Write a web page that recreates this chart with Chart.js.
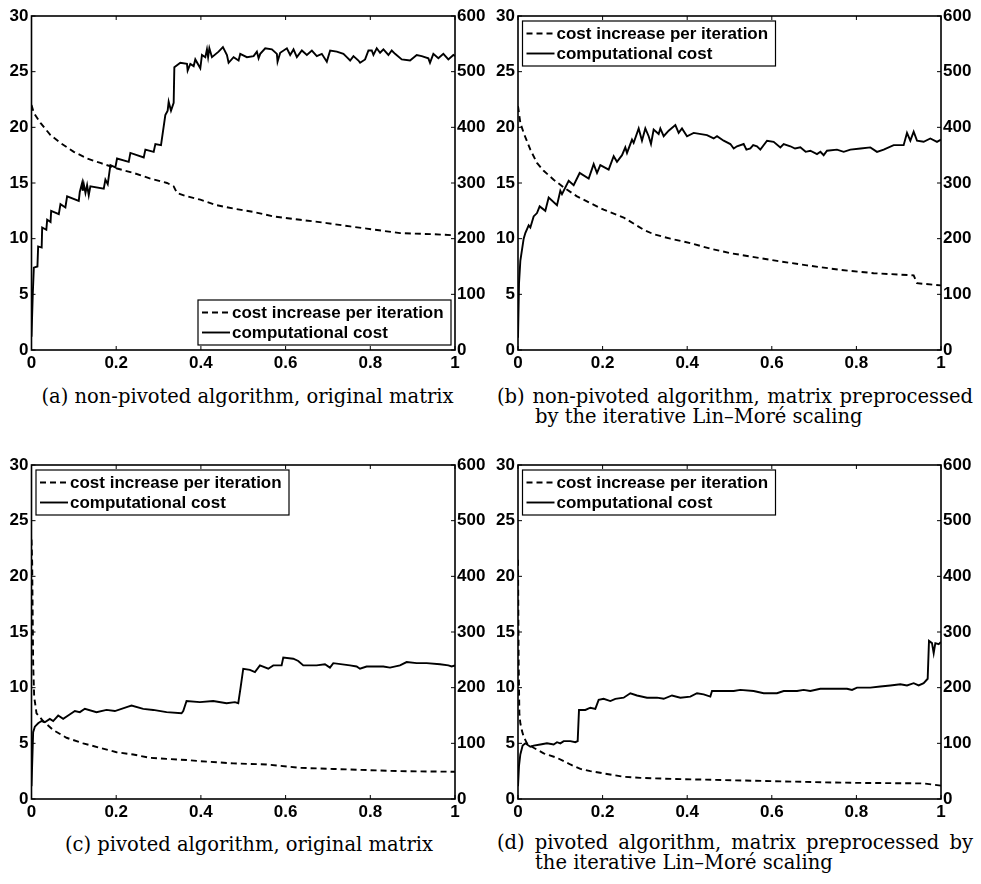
<!DOCTYPE html>
<html>
<head>
<meta charset="utf-8">
<script src="https://cdn.jsdelivr.net/npm/chart.js@4.4.0/dist/chart.umd.min.js"></script>
<style>
  body { margin: 0; background: #fff; width: 981px; height: 884px; position: relative; overflow: hidden; }
  .panel { position: absolute; height: 380px; }
  .cap { position: absolute; font-family: "DejaVu Serif", serif; font-size: 19.5px;
         line-height: 20px; color: #000; white-space: nowrap; }
  .center { text-align: center; }
  .just { text-align: justify; text-align-last: justify; }
</style>
</head>
<body>
<div class="panel" style="left:0;top:0;width:490px"><canvas id="chartA"></canvas></div>
<div class="panel" style="left:490px;top:0;width:491px"><canvas id="chartB"></canvas></div>
<div class="panel" style="left:0;top:449px;width:490px"><canvas id="chartC"></canvas></div>
<div class="panel" style="left:490px;top:449px;width:491px"><canvas id="chartD"></canvas></div>

<div class="cap center" id="capA" style="left:20px;top:387px;width:455px"></div>
<div class="cap just" id="capB1" style="left:497px;top:387px;width:476px"></div>
<div class="cap" id="capB2" style="left:535px;top:407px"></div>
<div class="cap center" id="capC" style="left:29px;top:835px;width:440px"></div>
<div class="cap just" id="capD1" style="left:497px;top:833px;width:476px"></div>
<div class="cap" id="capD2" style="left:535px;top:853px"></div>

<script>
// tick values
const xTicks = [0, 0.2, 0.4, 0.6, 0.8, 1];
const leftTicks = [0, 5, 10, 15, 20, 25, 30];
const rightTicks = [0, 100, 200, 300, 400, 500, 600];

const seriesLabels = ["cost increase per iteration", "computational cost"];

// (a) non-pivoted, original matrix
const costIncA = [[0,22.0],[0.0055,21.3],[0.0212,20.4],[0.0448,19.3],[0.0684,18.6],[0.0998,17.8],[0.1313,17.2],
  [0.1627,16.8],[0.202,16.3],[0.2414,15.9],[0.2807,15.4],[0.32,15.0],[0.3357,14.7],[0.3436,14.1],[0.3671,13.8],
  [0.3986,13.5],[0.4379,13.0],[0.4772,12.7],[0.5244,12.4],[0.5715,12.0],[0.6344,11.7],[0.6973,11.4],[0.7524,11.1],
  [0.7917,10.9],[0.8703,10.5],[0.9489,10.4],[1,10.3]];
const compCostA = [[0,24],[0.003,100],[0.0055,148],[0.014,150],[0.0157,186],[0.024,184],[0.0252,220],[0.035,216],
  [0.037,234],[0.045,230],[0.0464,250],[0.0645,244],[0.0684,262],[0.080,256],[0.0841,276],[0.1116,268],[0.114,284],
  [0.1195,300],[0.121,286],[0.1234,298],[0.1274,282],[0.1313,296],[0.1352,278],[0.139,294],[0.1706,290],[0.1745,306],
  [0.18,298],[0.1863,332],[0.198,328],[0.202,344],[0.2296,338],[0.2335,354],[0.265,346],[0.2689,360],[0.2885,356],
  [0.2925,370],[0.3058,368],[0.316,422],[0.3215,430],[0.3239,446],[0.3294,430],[0.3357,444],[0.3373,508],[0.3514,516],
  [0.3671,514],[0.3687,502],[0.375,514],[0.3829,510],[0.3868,522],[0.3986,506],[0.4025,530],[0.4104,526],[0.4143,540],
  [0.417,526],[0.42,542],[0.4261,526],[0.4418,536],[0.452,544],[0.4615,530],[0.4654,516],[0.4772,526],[0.489,520],
  [0.4929,532],[0.5086,526],[0.5244,528],[0.5322,536],[0.5362,524],[0.5401,532],[0.5519,542],[0.5676,540],[0.5794,532],
  [0.581,518],[0.5873,534],[0.603,542],[0.6108,530],[0.6187,540],[0.6266,526],[0.6384,538],[0.6502,530],[0.662,538],
  [0.6737,528],[0.6855,532],[0.6973,518],[0.7052,538],[0.7209,536],[0.7366,532],[0.7445,526],[0.7524,520],[0.7602,528],
  [0.772,520],[0.7759,516],[0.7877,522],[0.7956,538],[0.8035,538],[0.8074,530],[0.8152,542],[0.8231,534],[0.831,540],
  [0.8428,530],[0.8506,538],[0.8585,532],[0.8742,522],[0.8939,520],[0.9096,530],[0.9214,528],[0.9371,524],[0.941,516],
  [0.9489,532],[0.9607,524],[0.9725,532],[0.9843,522],[0.9961,530],[1,528]];

// (b) non-pivoted, Lin-More scaling
const costIncB = [[0,21.9],[0.0055,20.4],[0.0134,19.5],[0.0292,18.0],[0.0449,16.8],[0.0607,16.1],[0.0843,15.3],
  [0.108,14.6],[0.1395,13.8],[0.171,13.2],[0.2025,12.6],[0.2498,11.9],[0.2971,10.8],[0.3207,10.4],[0.3601,10.0],
  [0.4074,9.6],[0.4547,9.1],[0.502,8.7],[0.565,8.3],[0.6123,8.0],[0.6832,7.6],[0.762,7.2],[0.8408,6.9],[0.9354,6.7],
  [0.9433,6.0],[1,5.8]];
const compCostB = [[0,22],[0.0024,120],[0.0055,160],[0.0134,200],[0.0173,210],[0.0252,224],[0.0292,220],[0.037,240],
  [0.0449,246],[0.0512,258],[0.0646,250],[0.0725,274],[0.0922,260],[0.1001,286],[0.104,280],[0.1198,304],[0.1316,296],
  [0.1458,318],[0.1671,308],[0.1789,334],[0.1868,318],[0.1946,332],[0.2143,324],[0.2262,348],[0.234,338],[0.2459,350],
  [0.2537,364],[0.2577,354],[0.2695,378],[0.2734,372],[0.2853,398],[0.2931,376],[0.301,398],[0.3089,384],[0.3144,370],
  [0.3207,396],[0.3325,388],[0.3365,398],[0.3444,384],[0.3562,394],[0.372,404],[0.3798,390],[0.3877,398],[0.3995,384],
  [0.4153,390],[0.4468,386],[0.4626,380],[0.4705,384],[0.4862,376],[0.502,370],[0.51,362],[0.5177,366],[0.5335,370],
  [0.54,360],[0.5493,362],[0.556,368],[0.565,366],[0.5729,360],[0.5887,376],[0.6044,374],[0.6202,364],[0.6281,370],
  [0.6438,366],[0.655,362],[0.6675,364],[0.68,356],[0.6911,358],[0.7069,352],[0.715,356],[0.7226,350],[0.7305,358],
  [0.7541,360],[0.77,356],[0.7857,360],[0.81,362],[0.833,364],[0.8487,356],[0.8645,360],[0.8881,368],[0.9117,368],
  [0.9196,390],[0.9275,376],[0.9354,392],[0.9433,376],[0.959,374],[0.9748,380],[0.9905,374],[1,378]];

// (c) pivoted, original matrix
const costIncC = [[0,23.3],[0.0016,21.2],[0.0039,12.2],[0.0063,9.2],[0.0118,7.7],[0.0276,7.0],[0.0512,6.2],
  [0.0827,5.5],[0.122,5.0],[0.1614,4.6],[0.2008,4.2],[0.2402,4.0],[0.2795,3.7],[0.3189,3.6],[0.3661,3.5],[0.3976,3.4],
  [0.4764,3.2],[0.5551,3.1],[0.6339,2.8],[0.7126,2.7],[0.7913,2.6],[0.8701,2.5],[1,2.45]];
const compCostC = [[0,23],[0.0039,120],[0.0079,130],[0.0157,136],[0.0236,140],[0.0315,138],[0.0433,144],[0.0512,140],
  [0.063,150],[0.0748,144],[0.0866,150],[0.1024,158],[0.1142,156],[0.126,162],[0.1535,156],[0.1772,160],[0.1969,158],
  [0.2283,166],[0.2362,168],[0.2638,162],[0.2874,160],[0.3189,156],[0.3543,154],[0.3583,158],[0.3661,176],[0.3976,174],
  [0.4291,176],[0.4606,172],[0.4803,174],[0.4882,172],[0.4937,200],[0.5,234],[0.5157,232],[0.5276,228],[0.5394,240],
  [0.5591,234],[0.5709,240],[0.5906,240],[0.5945,254],[0.6181,252],[0.6299,248],[0.6417,240],[0.6732,240],[0.6929,242],
  [0.7047,236],[0.7126,244],[0.752,240],[0.7677,238],[0.7756,234],[0.7913,238],[0.8307,238],[0.8465,236],[0.8701,240],
  [0.8858,246],[0.9094,244],[0.9331,244],[0.9646,242],[0.9843,240],[0.9921,238],[1,240]];

// (d) pivoted, Lin-More scaling
const costIncD = [[0,21.5],[0.0016,12.2],[0.0032,7.7],[0.0055,6.8],[0.0095,6.1],[0.0134,5.6],[0.0213,5.0],[0.037,4.6],
  [0.0607,4.1],[0.0922,3.7],[0.1237,3.1],[0.1474,2.7],[0.171,2.5],[0.2025,2.3],[0.2498,2.0],[0.2892,1.9],[0.368,1.8],
  [0.4862,1.7],[0.6044,1.6],[0.7226,1.5],[0.8014,1.45],[0.959,1.4],[1,1.2]];
const compCostD = [[0,23],[0.0024,60],[0.0055,80],[0.011,96],[0.0173,100],[0.0292,94],[0.037,96],[0.0528,98],
  [0.0685,100],[0.0843,98],[0.0922,102],[0.1001,100],[0.108,104],[0.1237,104],[0.1355,102],[0.1411,104],[0.1442,160],
  [0.1592,160],[0.171,164],[0.1828,162],[0.1907,178],[0.2025,180],[0.2183,176],[0.2301,180],[0.2498,182],[0.2656,190],
  [0.2813,186],[0.305,182],[0.3286,182],[0.3444,180],[0.3641,186],[0.3838,182],[0.4074,184],[0.4232,190],[0.4389,188],
  [0.4547,184],[0.4586,194],[0.4862,194],[0.5099,194],[0.5256,196],[0.5571,194],[0.5808,190],[0.6123,190],[0.6281,194],
  [0.6596,194],[0.6753,196],[0.6911,194],[0.7147,198],[0.7384,198],[0.7778,198],[0.7896,196],[0.8014,200],[0.833,200],
  [0.8566,202],[0.8802,204],[0.9039,206],[0.9196,204],[0.9354,208],[0.9472,204],[0.959,208],[0.9685,216],[0.9716,284],
  [0.9787,280],[0.9827,262],[0.9866,280],[0.9945,278],[1,282]];

const captions = {
  capA: "(a) non-pivoted algorithm, original matrix",
  capB1: "(b) non-pivoted algorithm, matrix preprocessed",
  capB2: "by the iterative Lin\u2013Mor\u00e9 scaling",
  capC: "(c) pivoted algorithm, original matrix",
  capD1: "(d) pivoted algorithm, matrix preprocessed by",
  capD2: "the iterative Lin\u2013Mor\u00e9 scaling",
};
for (const id in captions) document.getElementById(id).textContent = captions[id];

const tickFont = { family: "'Liberation Sans', Arial, sans-serif", size: 17, weight: "bold" };
Chart.defaults.color = "#000";

// box around the plot and matlab style inward ticks
const frameTicks = {
  id: "frameTicks",
  afterDatasetsDraw(chart) {
    const { ctx, chartArea: a, scales } = chart;
    ctx.save();
    ctx.strokeStyle = "#000";
    ctx.lineWidth = 1;
    ctx.beginPath();
    xTicks.forEach((v) => {
      const px = scales.x.getPixelForValue(v);
      ctx.moveTo(px, a.bottom); ctx.lineTo(px, a.bottom - 4);
      ctx.moveTo(px, a.top); ctx.lineTo(px, a.top + 4);
    });
    leftTicks.forEach((v) => {
      const py = scales.y.getPixelForValue(v);
      ctx.moveTo(a.left, py); ctx.lineTo(a.left + 4, py);
    });
    rightTicks.forEach((v) => {
      const py = scales.y1.getPixelForValue(v);
      ctx.moveTo(a.right, py); ctx.lineTo(a.right - 4, py);
    });
    ctx.stroke();
    ctx.lineWidth = 1.6;
    ctx.strokeRect(a.left, a.top, a.right - a.left, a.bottom - a.top);
    ctx.restore();
  },
};

const boxLegend = {
  id: "boxLegend",
  afterDatasetsDraw(chart, args, opts) {
    const { ctx, chartArea: a } = chart;
    const w = 253, h = 45;
    const x = opts.corner === "br" ? a.right - 4 - w : a.left + 4.5;
    const y = opts.corner === "br" ? a.bottom - 5 - h : a.top + 5;
    ctx.save();
    ctx.fillStyle = "#fff";
    ctx.fillRect(x, y, w, h);
    ctx.strokeStyle = "#000";
    ctx.lineWidth = 1.2;
    ctx.strokeRect(x, y, w, h);
    ctx.font = "bold 17px 'Liberation Sans', Arial, sans-serif";
    ctx.textBaseline = "middle";
    chart.data.datasets.forEach((ds, i) => {
      const cy = y + 12.5 + i * 20;
      ctx.beginPath();
      ctx.setLineDash(ds.borderDash || []);
      ctx.lineWidth = ds.borderWidth;
      ctx.moveTo(x + 4, cy);
      ctx.lineTo(x + 32, cy);
      ctx.stroke();
      ctx.setLineDash([]);
      ctx.fillStyle = "#000";
      ctx.fillText(ds.label, x + 34, cy + 1);
    });
    ctx.restore();
  },
};

const toXY = (arr) => arr.map(([x, y]) => ({ x: x, y: y }));
const fixTicks = (vals) => (scale) => { scale.ticks = vals.map((v) => ({ value: v })); };

function makeChart(id, costInc, compCost, corner, leftW, rightW) {
  return new Chart(document.getElementById(id), {
    type: "line",
    data: {
      datasets: [
        {
          label: seriesLabels[0],
          data: toXY(costInc),
          yAxisID: "y",
          borderColor: "#000",
          borderWidth: 1.9,
          borderDash: [6, 4],
          pointRadius: 0,
        },
        {
          label: seriesLabels[1],
          data: toXY(compCost),
          yAxisID: "y1",
          borderColor: "#000",
          borderWidth: 1.9,
          pointRadius: 0,
        },
      ],
    },
    options: {
      responsive: true,
      maintainAspectRatio: false,
      animation: false,
      layout: { padding: { top: 16, left: 0, right: 0, bottom: 0 } },
      plugins: {
        legend: { display: false },
        tooltip: { enabled: false },
        boxLegend: { corner: corner },
      },
      scales: {
        x: {
          type: "linear",
          min: 0,
          max: 1,
          afterBuildTicks: fixTicks(xTicks),
          afterFit: (s) => { s.height = 30; },
          grid: { display: false, drawTicks: false },
          border: { display: false },
          ticks: { padding: 3, maxRotation: 0, font: tickFont, callback: (v) => String(+v.toFixed(1)) },
        },
        y: {
          position: "left",
          min: 0,
          max: 30,
          afterBuildTicks: fixTicks(leftTicks),
          afterFit: (s) => { s.width = leftW; },
          grid: { display: false, drawTicks: false },
          border: { display: false },
          ticks: { padding: 3, font: tickFont },
        },
        y1: {
          position: "right",
          min: 0,
          max: 600,
          afterBuildTicks: fixTicks(rightTicks),
          afterFit: (s) => { s.width = rightW; },
          grid: { display: false, drawTicks: false },
          border: { display: false },
          ticks: { padding: 2, font: tickFont },
        },
      },
    },
    plugins: [frameTicks, boxLegend],
  });
}

makeChart("chartA", costIncA, compCostA, "br", 31.5, 35);
makeChart("chartB", costIncB, compCostB, "tl", 28, 40);
makeChart("chartC", costIncC, compCostC, "tl", 31.5, 35);
makeChart("chartD", costIncD, compCostD, "tl", 28, 40);
</script>
</body>
</html>
